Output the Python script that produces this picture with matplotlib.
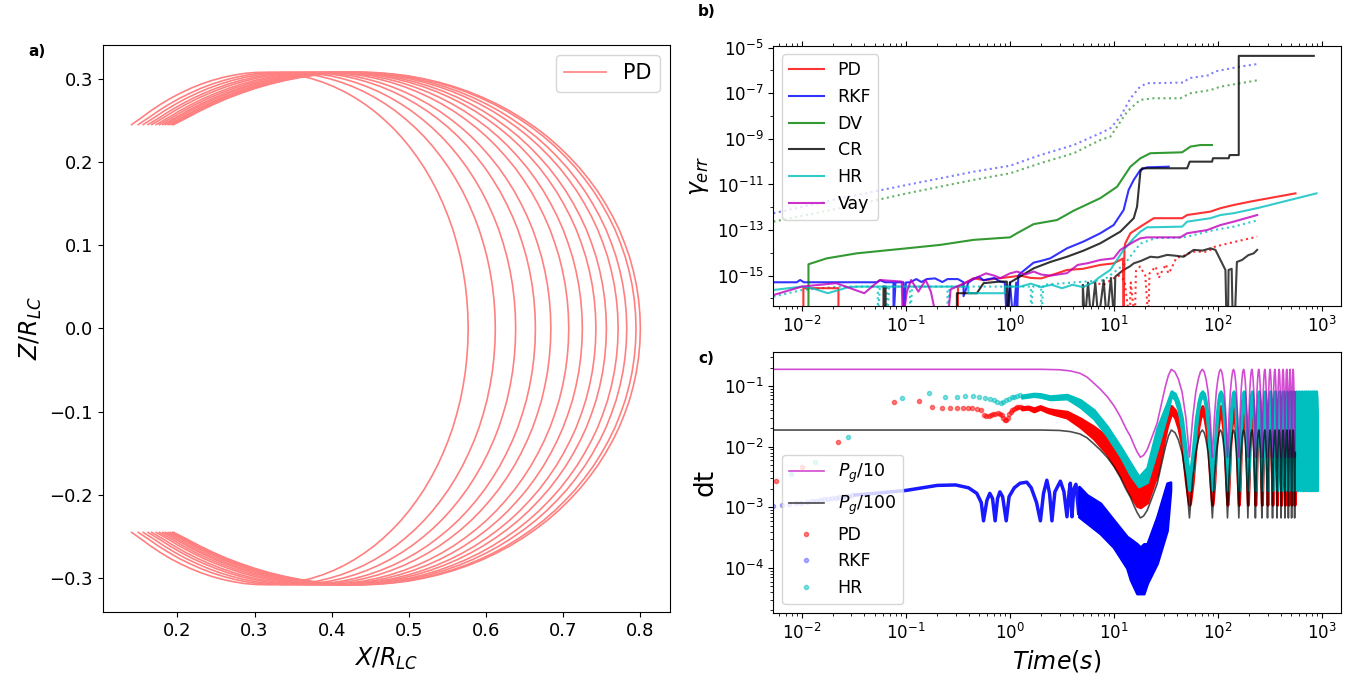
import numpy as np
import matplotlib
matplotlib.use("Agg")
import matplotlib.pyplot as plt
from matplotlib.ticker import FixedLocator, NullFormatter

# ---------------- panel a) : projected trajectory ----------------
# outer field line, upper half, from mirror point down to the equator
fl_x = [0.195, 0.2125, 0.2293, 0.2467, 0.2645, 0.2828, 0.3016, 0.3206, 0.3399, 0.3596,
        0.3795, 0.3995, 0.4195, 0.4397, 0.4599, 0.4799, 0.4999, 0.5196, 0.5391, 0.5584,
        0.5772, 0.5955, 0.6135, 0.6309, 0.6476, 0.6638, 0.6793, 0.694, 0.7078, 0.721,
        0.7331, 0.7445, 0.7547, 0.7641, 0.7725, 0.7796, 0.7859, 0.7909, 0.7949, 0.7977,
        0.7994, 0.80]
fl_z = [0.245, 0.2532, 0.2615, 0.2692, 0.2764, 0.2828, 0.2887, 0.2938, 0.2981, 0.3017,
        0.3045, 0.3066, 0.3077, 0.3079, 0.3073, 0.3057, 0.3034, 0.300, 0.2958, 0.2906,
        0.2846, 0.2777, 0.2699, 0.2613, 0.2518, 0.2416, 0.2306, 0.2188, 0.2063, 0.1932,
        0.1794, 0.165, 0.1501, 0.1347, 0.1189, 0.1026, 0.0861, 0.0692, 0.0521, 0.0348,
        0.0174, 0.0]
# X/R_LC of each pass at Z=0, divided by the outer value 0.8
pass_scale = [0.721, 0.765, 0.798, 0.830, 0.855, 0.884, 0.906, 0.928, 0.945,
              0.964, 0.978, 0.993, 1.0]

# ---------------- panel b) : gamma error (log10 t, log10 err) ----------------
pd_err = [(-1.985, -17), (-1.985, -15.55), (-1.648, -15.55), (-1.648, -17), (-0.5, -17),
          (-0.5, -15.5), (-0.35, -15.11), (-0.25, -15.2), (-0.093, -15.11), (0.1, -15.0),
          (0.2, -15.1), (0.3, -15.12), (0.45, -14.9), (0.548, -14.75), (0.7, -14.7),
          (0.868, -14.53), (0.996, -14.46), (1.06, -14.31), (1.085, -14.25), (1.092, -17),
          (1.10, -13.8), (1.108, -13.58), (1.157, -13.14), (1.253, -12.85), (1.381, -12.48),
          (1.654, -12.48), (1.702, -12.34), (1.926, -12.19), (2.022, -12.04), (2.15, -11.90),
          (2.31, -11.75), (2.743, -11.39)]
rkf_err = [(-2.273, -15.29), (-2.049, -15.29), (-2.016, -15.19), (-1.98, -15.29), (-1.279, -15.29),
           (-1.247, -15.20), (-1.2, -15.29), (-1.119, -15.29), (-1.119, -17), (-1.10, -15.29),
           (-1.023, -15.29), (-1.023, -17), (-1.0, -15.3), (-0.959, -15.29), (-0.9, -15.15),
           (-0.85, -15.28), (-0.8, -15.15), (-0.72, -15.12), (-0.65, -15.28), (-0.6, -15.15),
           (-0.5, -15.15), (-0.446, -15.29), (-0.446, -15.9), (-0.4, -15.3), (-0.35, -15.15),
           (-0.3, -15.05), (-0.254, -15.2), (-0.15, -15.1), (-0.1, -15.25), (-0.05, -15.3),
           (-0.03, -17), (0.0, -15.3), (0.03, -17), (0.06, -15.3), (0.067, -17), (0.08, -15.0),
           (0.1, -14.9), (0.227, -14.43), (0.3, -14.35), (0.387, -14.24), (0.548, -13.8),
           (0.708, -13.5), (0.868, -13.14), (0.996, -12.78), (1.092, -12.12), (1.14, -11.24),
           (1.189, -10.80), (1.253, -10.36), (1.317, -10.25), (1.525, -10.22)]
dv_err = [(-1.936, -17), (-1.936, -14.5), (-1.76, -14.24), (-1.471, -14.02), (-0.99, -13.80),
          (-0.67, -13.65), (-0.35, -13.43), (0.0, -13.32), (0.067, -13.14), (0.227, -12.74),
          (0.452, -12.56), (0.612, -12.15), (0.868, -11.6), (1.029, -11.10), (1.157, -10.22),
          (1.253, -9.85), (1.349, -9.63), (1.654, -9.59), (1.734, -9.34), (1.83, -9.27),
          (1.94, -9.27)]
cr_err = [(-1.215, -17), (-1.215, -15.48), (-1.195, -15.48), (-1.195, -17), (-0.51, -17),
          (-0.51, -15.77), (-0.318, -15.77), (-0.254, -15.33), (-0.1, -15.26), (-0.03, -15.26),
          (-0.02, -17), (0.0, -15.3), (0.067, -15.12), (0.227, -14.68), (0.387, -14.40),
          (0.548, -14.17), (0.708, -13.9), (0.868, -13.58), (1.06, -13.07), (1.189, -12.48),
          (1.221, -11.97), (1.253, -10.44), (1.27, -10.29), (1.702, -10.29), (1.727, -10.0),
          (1.942, -10.0), (1.95, -9.85), (2.102, -9.85), (2.11, -9.71), (2.198, -9.71),
          (2.198, -5.36), (2.919, -5.36)]
hr_err = [(-2.273, -15.63), (-2.0, -15.48), (-1.9, -15.55), (-1.75, -15.77), (-1.55, -15.5),
          (-1.45, -15.48), (-0.4, -15.48), (-0.4, -15.77), (-0.05, -15.77), (-0.05, -15.48),
          (0.1, -15.48), (0.2, -15.35), (0.3, -15.5), (0.4, -15.4), (0.5, -15.55), (0.6, -15.4),
          (0.7, -15.5), (0.8, -15.3), (0.85, -15.1), (0.964, -14.75), (1.092, -13.87),
          (1.189, -13.36), (1.253, -13.07), (1.317, -12.88), (1.654, -12.85), (1.702, -12.63),
          (1.926, -12.48), (2.022, -12.34), (2.15, -12.26), (2.375, -12.04), (2.945, -11.39)]
vay_err = [(-2.273, -15.85), (-2.0, -15.48), (-1.67, -15.33), (-1.40, -15.77), (-1.25, -15.19),
           (-1.04, -15.26), (-1.03, -17), (-0.99, -15.7), (-0.95, -15.19), (-0.88, -15.7),
           (-0.81, -15.19), (-0.76, -15.7), (-0.70, -17), (-0.60, -17), (-0.57, -15.6),
           (-0.23, -14.9), (-0.15, -15.0), (-0.093, -15.11), (0.0, -14.9), (0.067, -14.82),
           (0.15, -14.95), (0.227, -14.82), (0.3, -14.95), (0.387, -15.0), (0.548, -14.89),
           (0.65, -14.53), (0.75, -14.45), (0.868, -14.31), (0.996, -14.24), (1.06, -13.87),
           (1.189, -13.51), (1.253, -13.36), (1.317, -13.32), (1.637, -13.32), (1.702, -13.14),
           (1.894, -13.0), (2.022, -12.78), (2.15, -12.63), (2.375, -12.34)]
# dotted curves (no legend entry)
rkf_err2 = [(-2.273, -12.26), (-1.632, -11.61), (-0.99, -11.02), (-0.67, -10.73), (-0.35, -10.44),
            (0.0, -10.18), (0.291, -9.71), (0.612, -9.27), (0.868, -8.75), (0.965, -8.535),
            (1.06, -8.03), (1.158, -7.22), (1.25, -6.71), (1.317, -6.56), (1.669, -6.53),
            (1.717, -6.34), (1.926, -6.20), (1.958, -6.05), (2.214, -5.83), (2.39, -5.71)]
dv_err2 = [(-2.273, -12.63), (-1.632, -12.04), (-0.99, -11.39), (-0.35, -10.80), (0.0, -10.51),
           (0.291, -10.07), (0.612, -9.63), (0.868, -9.05), (0.965, -8.90), (1.125, -7.81),
           (1.25, -7.29), (1.38, -7.22), (1.637, -7.22), (1.734, -7.0), (1.926, -6.86),
           (2.022, -6.71), (2.39, -6.42)]
pd_err2 = [(0.7, -15.5), (0.8, -15.3), (0.9, -15.4), (1.0, -15.1), (1.05, -15.0), (1.1, -15.2),
           (1.15, -17), (1.16, -15.3), (1.2, -17), (1.21, -14.8), (1.25, -14.6), (1.3, -15.0),
           (1.33, -17), (1.34, -14.9), (1.4, -14.6), (1.43, -15.1), (1.45, -14.9), (1.5, -14.5),
           (1.52, -14.9), (1.55, -14.7), (1.6, -14.2), (1.65, -14.17), (1.75, -13.95),
           (1.9, -13.95), (1.97, -13.73), (2.1, -13.58), (2.375, -13.29)]
hr_err2 = [(-2.273, -15.92), (-2.0, -15.63), (-1.65, -15.48), (-1.27, -15.48), (-1.27, -17),
           (-1.25, -15.48), (-1.18, -15.48), (-1.18, -17), (-1.16, -15.48), (-0.96, -15.48),
           (-0.96, -17), (-0.94, -15.48), (-0.6, -15.48), (-0.6, -17), (-0.58, -15.48),
           (0.2, -15.48), (0.2, -17), (0.22, -15.48), (0.3, -15.48), (0.3, -17), (0.32, -15.4),
           (0.9, -15.2), (1.1, -14.5), (1.25, -13.6), (1.4, -13.35), (1.65, -13.33),
           (1.702, -13.29), (1.958, -13.0), (2.15, -12.85), (2.39, -12.56)]
cr_err2 = [(0.7, -17), (0.7, -15.4), (0.72, -17), (0.75, -15.3), (0.78, -17), (0.82, -15.3),
           (0.85, -17), (0.9, -15.2), (0.93, -17), (0.97, -15.1), (1.0, -17), (1.012, -15.04),
           (1.09, -14.75), (1.15, -14.6), (1.189, -14.46), (1.26, -14.35), (1.349, -14.17),
           (1.42, -14.2), (1.51, -14.09), (1.58, -14.12), (1.669, -14.17), (1.765, -13.87),
           (1.85, -13.9), (1.926, -13.80), (1.974, -13.87), (2.022, -14.31), (2.07, -14.75),
           (2.08, -17), (2.095, -17), (2.1, -14.75), (2.13, -14.7), (2.14, -17), (2.16, -17),
           (2.18, -14.4), (2.23, -14.31), (2.29, -14.1), (2.342, -14.02), (2.375, -13.87)]

# ---------------- panel c) : time steps ----------------
pg_t = [0.0053, 1.0, 2.0, 3.0, 3.8, 4.7, 5.5, 6.4, 7.4, 8.6, 10.0, 11.5, 13.0, 14.4, 15.6,
        16.6, 17.9, 19.2, 20.8, 23.0, 25.9, 28.5, 31.1, 33.3]
pg_val = [1.88, 1.88, 1.88, 1.85, 1.77, 1.62, 1.4, 1.11, 0.88, 0.667, 0.47, 0.31, 0.2, 0.146,
          0.105, 0.083, 0.067, 0.072, 0.089, 0.14, 0.243, 0.5, 0.98, 1.5]
cycle_peaks = [35.5, 70.5, 105.5, 140.5, 175.5, 210.5, 245.5, 280.5, 315.5, 350.5,
               385.5, 420.5, 455.5, 490.5, 525.5, 560.5, 595.5, 630.5, 665.5, 700.5,
               735.5, 770.5, 805.5, 840.5, 875.5]
cycle_off = [0, 3, 6, 9.5, 13.5, 16.5, 17.5, 18.5, 21.5, 25.5, 29, 32]
pg_cycle = [1.88, 1.7, 1.3, 0.8, 0.3, 0.1, 0.067, 0.1, 0.3, 0.8, 1.3, 1.7]
pd_cycle_hi = [0.047, 0.04, 0.03, 0.018, 0.006, 0.0025, 0.002, 0.0025, 0.006, 0.018, 0.03, 0.04]
pd_cycle_lo = [0.036, 0.03, 0.02, 0.01, 0.0025, 0.0012, 0.0011, 0.0012, 0.0025, 0.01, 0.02, 0.03]
hr_cycle_hi = [0.082, 0.075, 0.055, 0.03, 0.009, 0.004, 0.0035, 0.004, 0.009, 0.03, 0.055, 0.075]
hr_cycle_lo = [0.07, 0.06, 0.04, 0.018, 0.004, 0.002, 0.0019, 0.002, 0.004, 0.018, 0.04, 0.06]

pd_dot_t = [0.00566, 0.0101, 0.0225, 0.0773, 0.133, 0.178, 0.222, 0.265, 0.308, 0.351,
            0.394, 0.436, 0.479, 0.521, 0.561, 0.594, 0.626, 0.658, 0.691, 0.725,
            0.76, 0.796, 0.831, 0.864, 0.894, 0.922, 0.95, 0.98, 1.014, 1.051,
            1.091, 1.133, 1.177, 1.222, 1.267]
pd_dot_dt = [0.00272, 0.0047, 0.0121, 0.0552, 0.056, 0.0446, 0.0428, 0.0428, 0.0428, 0.0428,
             0.0428, 0.0428, 0.042, 0.04, 0.033, 0.032, 0.032, 0.033, 0.034, 0.035,
             0.036, 0.035, 0.033, 0.03, 0.028, 0.0276, 0.03, 0.034, 0.037, 0.04,
             0.042, 0.044, 0.045, 0.045, 0.045]
pd_band_t = [1.3, 1.5, 1.7, 1.95, 2.3, 2.7, 3.53, 4.74, 6.4, 8.6, 11.5, 14.4, 16.6, 17.9,
             20.8, 25.9, 32.3]
pd_band_hi = [0.045, 0.046, 0.043, 0.0468, 0.042, 0.04, 0.0378, 0.0293, 0.0214, 0.0146,
              0.0078, 0.0041, 0.0025, 0.00194, 0.0032, 0.0129, 0.0313]
pd_band_lo = [0.041, 0.042, 0.038, 0.042, 0.037, 0.034, 0.03, 0.021, 0.0135, 0.0075,
              0.0034, 0.0016, 0.00105, 0.001, 0.0012, 0.0035, 0.0214]

hr_dot_t = [0.0079, 0.0134, 0.028, 0.0916, 0.168, 0.239, 0.309, 0.371, 0.44, 0.507, 0.574,
            0.638, 0.699, 0.758, 0.812, 0.866, 0.922, 0.98, 1.04, 1.105, 1.17, 1.24]
hr_dot_dt = [0.0036, 0.00553, 0.0146, 0.0626, 0.0777, 0.0667, 0.0667, 0.0684, 0.0684, 0.0667,
             0.0642, 0.061, 0.0588, 0.054, 0.053, 0.055, 0.058, 0.06, 0.065, 0.066, 0.068, 0.07]
hr_band_t = [1.3, 1.69, 1.96, 2.44, 3.53, 4.74, 6.4, 8.6, 11.5, 14.4, 17.3, 20.8, 25.9, 32.3]
hr_band_hi = [0.07, 0.075, 0.074, 0.068, 0.072, 0.0589, 0.0403, 0.0214, 0.01, 0.0053,
              0.0032, 0.0045, 0.02, 0.052]
hr_band_lo = [0.064, 0.068, 0.066, 0.06, 0.062, 0.045, 0.029, 0.015, 0.007, 0.0034,
              0.0022, 0.0026, 0.009, 0.035]

rkf_dot_t = [0.0053, 0.0064, 0.0075, 0.0087, 0.0099, 0.0111, 0.0124, 0.0137, 0.0151, 0.0165,
             0.018, 0.0196, 0.0212, 0.0229, 0.0247, 0.0265, 0.0284, 0.0304]
rkf_dot_dt = [0.00105, 0.0011, 0.00113, 0.00117, 0.0012, 0.00123, 0.00126, 0.00129, 0.00132,
              0.00135, 0.00138, 0.00141, 0.00144, 0.00147, 0.0015, 0.00152, 0.00155, 0.00157]
rkf_line_t = [0.0325, 0.05, 0.1, 0.2, 0.3, 0.4, 0.48, 0.53, 0.557, 0.6, 0.64, 0.68, 0.72, 0.76,
              0.8, 0.85, 0.92, 0.98, 1.1, 1.25, 1.45, 1.6, 1.8, 1.96, 2.1, 2.26, 2.4, 2.53,
              2.7, 3.05, 3.3, 3.53, 3.7, 3.8, 3.94, 4.1, 4.3, 4.57]
rkf_line_dt = [0.0016, 0.0017, 0.0019, 0.0023, 0.00234, 0.0021, 0.0017, 0.0012, 0.0006, 0.0013,
               0.0017, 0.0014, 0.0006, 0.0014, 0.0018, 0.0015, 0.0006, 0.0015, 0.0021, 0.0025,
               0.0026, 0.0021, 0.0012, 0.0006, 0.0017, 0.0028, 0.0017, 0.0006, 0.0018, 0.0027,
               0.0018, 0.0007, 0.0018, 0.0025, 0.0007, 0.002, 0.0024, 0.0008]
rkf_band_t = [4.6, 5.5, 7.38, 9.9, 13.3, 14.4, 16.6, 17.9, 19.3, 20.8, 25.9, 32.3, 34.8]
rkf_band_hi = [0.0022, 0.0016, 0.00117, 0.00062, 0.00033, 0.0003, 0.00025, 0.00022, 0.00025,
               0.00025, 0.0007, 0.0025, 0.0026]
rkf_band_lo = [0.0007, 0.00055, 0.00037, 0.00022, 0.0001, 6.4e-5, 3.8e-5, 3.8e-5, 3.8e-5,
               5.6e-5, 0.00012, 0.00042, 0.0019]


def unpack_log(pairs):
    """Turn (log10 t, log10 y) pairs into two arrays."""
    arr = np.array(pairs, dtype=float)
    return 10.0 ** arr[:, 0], 10.0 ** arr[:, 1]


def tile_cycles(start_t, start_v, values, t_end):
    """Append the repeated bounce cycle after the first part of a series."""
    t, v = list(start_t), list(start_v)
    for p in cycle_peaks:
        for o, val in zip(cycle_off, values):
            if p + o <= t_end:
                t.append(p + o)
                v.append(val)
    return np.array(t), np.array(v)


def plot_panel_a(ax):
    xs = fl_x + fl_x[-2::-1]
    zs = fl_z + [-z for z in fl_z[-2::-1]]
    for i, s in enumerate(pass_scale):
        ax.plot([s * x for x in xs], zs, color="#ff8080", lw=1.2,
                label="PD" if i == 0 else None)
    ax.set_xlim(0.103, 0.8385)
    ax.set_ylim(-0.341, 0.341)
    ax.set_xlabel(r"$X/R_{LC}$", fontsize=17)
    ax.set_ylabel(r"$Z/R_{LC}$", fontsize=17)
    ax.tick_params(labelsize=13)
    ax.legend(loc="upper right", fontsize=15)


def plot_panel_b(ax):
    for pairs, c, a, ls in [(rkf_err2, "b", 0.5, ":"), (dv_err2, "g", 0.6, ":"),
                            (pd_err2, "r", 0.8, ":"), (hr_err2, "c", 0.8, ":"),
                            (cr_err2, "k", 0.75, "-")]:
        t, y = unpack_log(pairs)
        ax.plot(t, y, ls=ls, color=c, alpha=a, lw=1.5)
    for pairs, c, lab in [(pd_err, "r", "PD"), (rkf_err, "b", "RKF"), (dv_err, "g", "DV"),
                          (cr_err, "k", "CR"), (hr_err, "c", "HR"), (vay_err, "m", "Vay")]:
        t, y = unpack_log(pairs)
        ax.plot(t, y, color=c, alpha=0.8, lw=1.5, label=lab)
    ax.set_xscale("log")
    ax.set_yscale("log")
    ax.set_xlim(0.00533, 1503)
    ax.set_ylim(4.8e-17, 1.22e-5)
    ax.set_yticks([1e-15, 1e-13, 1e-11, 1e-9, 1e-7, 1e-5])
    ax.yaxis.set_minor_locator(FixedLocator([1e-16, 1e-14, 1e-12, 1e-10, 1e-8, 1e-6]))
    ax.yaxis.set_minor_formatter(NullFormatter())
    ax.tick_params(axis="x", which="both", top=True)
    ax.tick_params(labelsize=12)
    ax.set_ylabel(r"$\gamma_{err}$", fontsize=17)
    ax.legend(loc="upper left", fontsize=12.5)


def plot_panel_c(ax):
    pg_tt, pg_vv = tile_cycles(pg_t, pg_val, pg_cycle, 553)
    ax.plot(pg_tt, pg_vv / 10, color="m", alpha=0.7, lw=1.2, label=r"$P_g/10$")
    ax.plot(pg_tt, pg_vv / 100, color="k", alpha=0.7, lw=1.2, label=r"$P_g/100$")

    # PD
    ax.plot(pd_dot_t, pd_dot_dt, ".", color="r", alpha=0.5, ms=6, label="PD")
    bt, hi = tile_cycles(pd_band_t, pd_band_hi, pd_cycle_hi, 553)
    _, lo = tile_cycles(pd_band_t, pd_band_lo, pd_cycle_lo, 553)
    ax.fill_between(bt, lo, hi, facecolor="r", edgecolor="r", lw=2)

    # RKF
    ax.plot(rkf_dot_t, rkf_dot_dt, ".", color="b", alpha=0.3, ms=6, label="RKF")
    ax.plot(rkf_line_t, rkf_line_dt, color="b", lw=2.5, alpha=0.9)
    ax.fill_between(rkf_band_t, rkf_band_lo, rkf_band_hi, facecolor="b", edgecolor="b", lw=2)

    # HR
    ax.plot(hr_dot_t, hr_dot_dt, ".", color="c", alpha=0.5, ms=6, label="HR")
    bt, hi = tile_cycles(hr_band_t, hr_band_hi, hr_cycle_hi, 895)
    _, lo = tile_cycles(hr_band_t, hr_band_lo, hr_cycle_lo, 895)
    ax.fill_between(bt, lo, hi, facecolor="c", edgecolor="c", lw=2)

    ax.set_xscale("log")
    ax.set_yscale("log")
    ax.set_xlim(0.00533, 1503)
    ax.set_ylim(1.84e-5, 0.367)
    ax.tick_params(labelsize=12)
    ax.set_xlabel(r"$Time(s)$", fontsize=17)
    ax.set_ylabel("dt", fontsize=19)
    ax.legend(loc="lower left", fontsize=12.5)


fig = plt.figure(figsize=(13.63, 6.8), dpi=100)
ax_a = fig.add_axes([0.0753, 0.0996, 0.4163, 0.8347])
ax_b = fig.add_axes([0.5674, 0.5504, 0.4162, 0.3824])
ax_c = fig.add_axes([0.5674, 0.0990, 0.4162, 0.3838])

plot_panel_a(ax_a)
plot_panel_b(ax_b)
plot_panel_c(ax_c)

fig.text(0.0269, 0.924, "a)", weight="bold", fontsize=11, ha="center", va="center")
fig.text(0.5185, 0.9828, "b)", weight="bold", fontsize=11, ha="center", va="center")
fig.text(0.5185, 0.4731, "c)", weight="bold", fontsize=11, ha="center", va="center")

fig.savefig("out.png", dpi=100)
